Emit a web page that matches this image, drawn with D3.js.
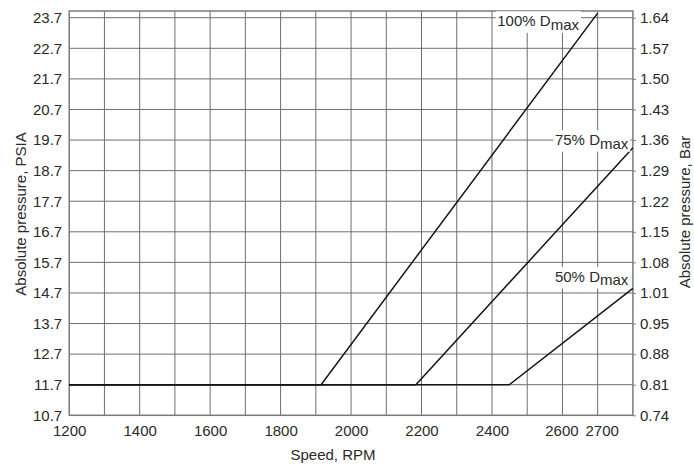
<!DOCTYPE html>
<html><head><meta charset="utf-8">
<script src="https://cdn.jsdelivr.net/npm/d3@7"></script>
<style>
html,body{margin:0;padding:0;background:#fff;}
svg{display:block;font-family:"Liberation Sans",Arial,Helvetica,sans-serif;}
</style></head>
<body>
<svg id="chart" width="694" height="466"></svg>
<script>
// ---- data ----
const speedTicks = [1200, 1400, 1600, 1800, 2000, 2200, 2400, 2600, 2700];
const speedGrid = [1300, 1400, 1500, 1600, 1700, 1800, 1900, 2000, 2100, 2200, 2300, 2400, 2500, 2600, 2700];
const psiTicks = [10.7, 11.7, 12.7, 13.7, 14.7, 15.7, 16.7, 17.7, 18.7, 19.7, 20.7, 21.7, 22.7, 23.7];
const psiLabels = ["10.7","11.7","12.7","13.7","14.7","15.7","16.7","17.7","18.7","19.7","20.7","21.7","22.7","23.7"];
const barLabels = ["0.74","0.81","0.88","0.95","1.01","1.08","1.15","1.22","1.29","1.36","1.43","1.50","1.57","1.64"];
const seriesNames = ["100%", "75%", "50%"];
const speed100 = [1200, 1915, 2700];
const psi100   = [11.7, 11.7, 23.85];
const speed75  = [1200, 2184, 2800];
const psi75    = [11.7, 11.7, 19.45];
const speed50  = [1200, 2449, 2800];
const psi50    = [11.7, 11.7, 14.85];
const xLabel = "Speed, RPM";
const yLabelLeft = "Absolute pressure, PSIA";
const yLabelRight = "Absolute pressure, Bar";

// ---- layout ----
const svg = d3.select("#chart");
const L = 69.2, R = 632.9, T = 11, B = 415.3;
const x = d3.scaleLinear().domain([1200, 2800]).range([L, R]);
const y = d3.scaleLinear().domain([10.7, 23.92]).range([B, T]);
const FS = 15;
const TXT = "#2a2a2a";

const gridColor = "#6e6e6e";
// horizontal grid
svg.append("g").selectAll("line").data(psiTicks.slice(1)).join("line")
  .attr("x1", L).attr("x2", R)
  .attr("y1", d => y(d)).attr("y2", d => y(d))
  .attr("stroke", gridColor).attr("stroke-width", 1);
// vertical grid
svg.append("g").selectAll("line").data(speedGrid).join("line")
  .attr("x1", d => x(d)).attr("x2", d => x(d))
  .attr("y1", T).attr("y2", B)
  .attr("stroke", gridColor).attr("stroke-width", 1);

// frame
svg.append("rect").attr("x", L).attr("y", T).attr("width", R - L).attr("height", B - T)
  .attr("fill", "none").attr("stroke", "#7a7a7a").attr("stroke-width", 1.5);

// left axis
const yAxisL = d3.axisLeft(y).tickValues(psiTicks).tickFormat((d, i) => psiLabels[i]).tickSize(0).tickPadding(7);
const gL = svg.append("g").attr("transform", `translate(${L},0)`).call(yAxisL);
gL.select(".domain").remove();
gL.selectAll("text").attr("font-size", FS).attr("fill", TXT).attr("font-family", null);

// right axis
const yAxisR = d3.axisRight(y).tickValues(psiTicks).tickFormat((d, i) => barLabels[i]).tickSize(3).tickPadding(4);
const gR = svg.append("g").attr("transform", `translate(${R},0)`).call(yAxisR);
gR.select(".domain").remove();
gR.selectAll("line").attr("stroke", "#7a7a7a");
gR.selectAll("text").attr("font-size", FS).attr("fill", TXT).attr("font-family", null);

// bottom axis
const xAxis = d3.axisBottom(x).tickValues(speedTicks).tickFormat(d3.format("d")).tickSize(0).tickPadding(10);
const gB = svg.append("g").attr("transform", `translate(0,${B})`).call(xAxis);
gB.select(".domain").remove();
gB.selectAll("text").attr("font-size", FS).attr("fill", TXT).attr("font-family", null)
  .attr("dx", d => d === 2700 ? 4 : (d === 2600 ? -1 : 0));

// titles
svg.append("text").attr("x", 333).attr("y", 460).attr("text-anchor", "middle")
  .attr("font-size", FS).attr("fill", TXT).text(xLabel);
svg.append("text").attr("transform", "translate(26,214) rotate(-90)").attr("text-anchor", "middle")
  .attr("font-size", FS).attr("fill", TXT).text(yLabelLeft);
svg.append("text").attr("transform", "translate(690,212) rotate(-90)").attr("text-anchor", "middle")
  .attr("font-size", FS).attr("fill", TXT).text(yLabelRight);

// series
const series = [
  {name: seriesNames[0], xs: speed100, ys: psi100},
  {name: seriesNames[1], xs: speed75,  ys: psi75},
  {name: seriesNames[2], xs: speed50,  ys: psi50}
];
const line = d3.line().x(d => x(d[0])).y(d => y(d[1]));
svg.append("g").selectAll("path").data(series).join("path")
  .attr("d", s => line(s.xs.map((v, i) => [v, s.ys[i]])))
  .attr("fill", "none").attr("stroke", "#151515").attr("stroke-width", 1.5)
  .attr("stroke-linejoin", "miter");

// labels (anchored at label end, in data coords)
const labelAnchors = [[2647, 23.42], [2787, 19.53], [2787, 15.06]];
const lg = svg.append("g");
series.forEach((s, i) => {
  const g = lg.append("g");
  const bg = g.append("rect").attr("fill", "#fff");
  const t = g.append("text").attr("x", x(labelAnchors[i][0])).attr("y", y(labelAnchors[i][1]))
    .attr("text-anchor", "end").attr("font-size", FS).attr("fill", TXT);
  t.append("tspan").text(s.name + " D");
  t.append("tspan").attr("dy", 3.5).text("max");
  const bb = t.node().getBBox();
  bg.attr("x", bb.x - 1.5).attr("y", bb.y - 1).attr("width", bb.width + 3).attr("height", bb.height + 1);
});
</script>
</body></html>
